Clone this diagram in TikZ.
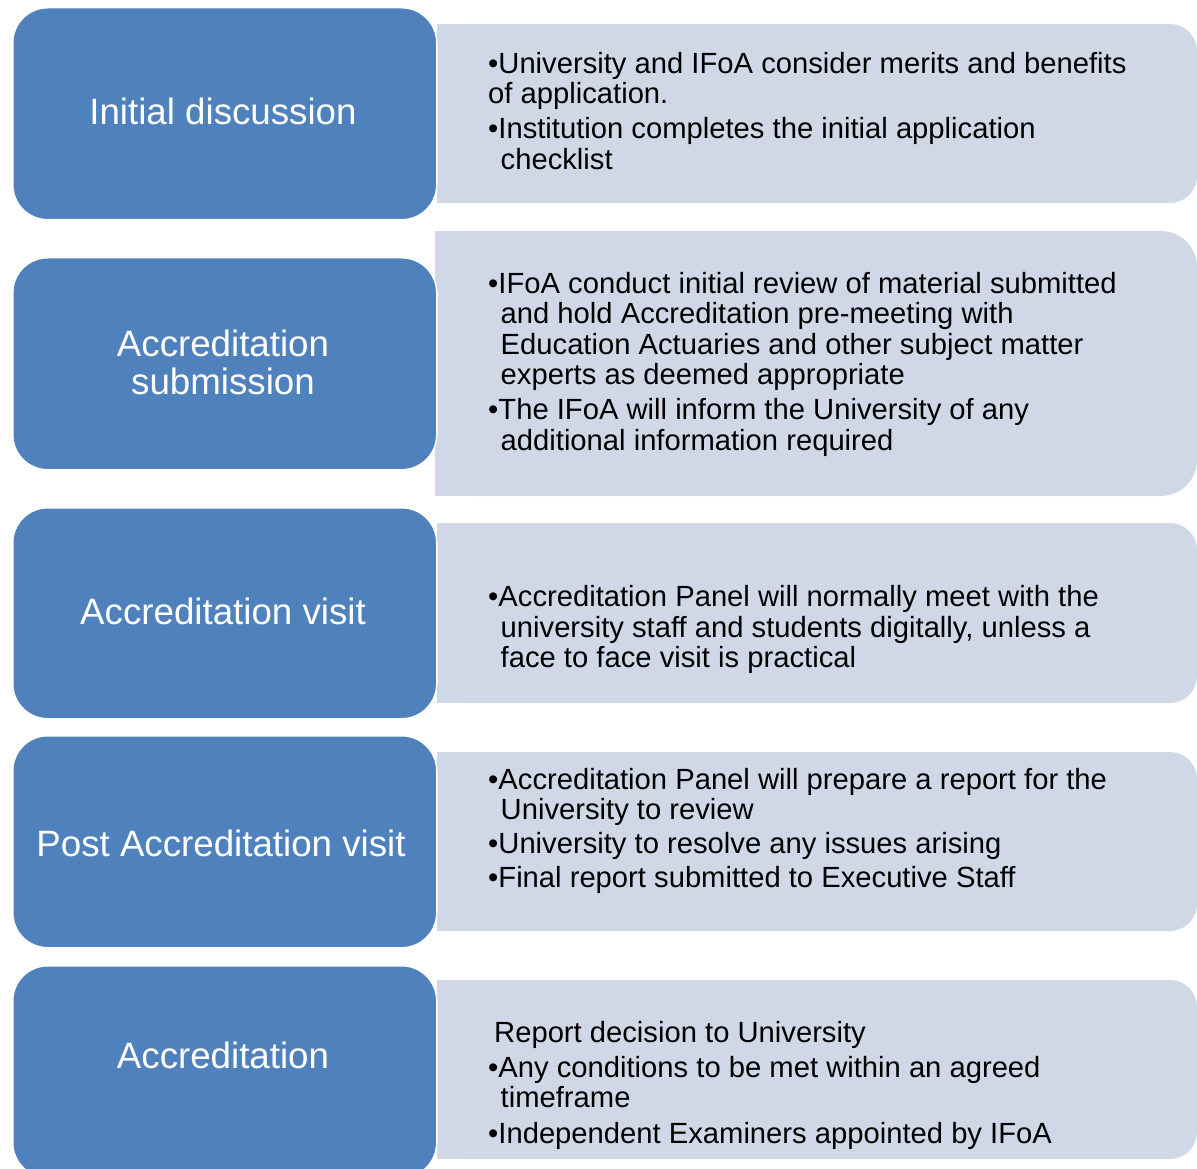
\documentclass[tikz,border=0pt]{standalone}
\usepackage{fontspec}
\setmainfont{Liberation Sans}
\definecolor{stepblue}{HTML}{4F81BD}
\definecolor{descgray}{HTML}{D0D8E8}
\tikzset{
  bluebox/.style={fill=stepblue, draw=white, line width=1.5pt, rounded corners=35pt, inner sep=0pt},
  steptext/.style={anchor=base, text=white, inner sep=0pt, font=\fontsize{36.7}{38}\selectfont},
  desc/.style={anchor=base west, text=black, inner sep=0pt, font=\fontsize{29.2}{30}\selectfont},
}
\begin{document}
\begin{tikzpicture}[x=1pt,y=-1pt]
\useasboundingbox (0,0) rectangle (1197,1169);
\clip (0,0) rectangle (1197,1169);
% gray description panels (rounded on the right only)
\foreach \t/\b/\l/\r in {24/203/437/27, 231/496/435/36, 523/703/437/27, 752/931/437/27, 980/1159/437/27}{
  \fill[descgray, rounded corners=\r pt] (\l,\t) rectangle (1197,\b);
  \fill[descgray] (\l,\t) rectangle (\l+60,\b);
}
% blue step boxes
\path (12,7) node[bluebox, anchor=north west, minimum width=424pt, minimum height=212pt] (b1) {};
\path (12,257) node[bluebox, anchor=north west, minimum width=424pt, minimum height=212pt] (b2) {};
\path (12,507) node[bluebox, anchor=north west, minimum width=424pt, minimum height=211pt] (b3) {};
\path (12,735) node[bluebox, anchor=north west, minimum width=424pt, minimum height=212pt] (b4) {};
\path (12,965) node[bluebox, anchor=north west, minimum width=424pt, minimum height=212pt] (b5) {};
% step labels
\node[steptext] (t1) at (223,125) {Initial discussion};
\node[steptext] (t2a) at (223,356) {Accreditation};
\node[steptext] (t2b) at (223,394) {submission};
\node[steptext] (t3) at (223,624) {Accreditation visit};
\node[steptext] (t4) at (221,856) {Post Accreditation visit};
\node[steptext] (t5) at (223,1068) {Accreditation};
% descriptions
\node[desc] (d11) at (488,74) {•University and IFoA consider merits and benefits};
\node[desc] (d12) at (488,104) {of application.};
\node[desc] (d13) at (488,139) {•Institution completes the initial application};
\node[desc] (d14) at (500.5,170) {checklist};

\node[desc] (d21) at (488,293) {•IFoA conduct initial review of material submitted};
\node[desc] (d22) at (500.5,323) {and hold Accreditation pre-meeting with};
\node[desc] (d23) at (500.5,354) {Education Actuaries and other subject matter};
\node[desc] (d24) at (500.5,384) {experts as deemed appropriate};
\node[desc] (d25) at (488,419) {•The IFoA will inform the University of any};
\node[desc] (d26) at (500.5,450) {additional information required};

\node[desc] (d31) at (488,606) {•Accreditation Panel will normally meet with the};
\node[desc] (d32) at (500.5,637) {university staff and students digitally, unless a};
\node[desc] (d33) at (500.5,667) {face to face visit is practical};

\node[desc] (d41) at (488,789) {•Accreditation Panel will prepare a report for the};
\node[desc] (d42) at (500.5,819) {University to review};
\node[desc] (d43) at (488,853) {•University to resolve any issues arising};
\node[desc] (d44) at (488,887) {•Final report submitted to Executive Staff};

\node[desc] (d51) at (494,1042) {Report decision to University};
\node[desc] (d52) at (488,1077) {•Any conditions to be met within an agreed};
\node[desc] (d53) at (500.5,1107) {timeframe};
\node[desc] (d54) at (488,1143) {•Independent Examiners appointed by IFoA};
\end{tikzpicture}
\end{document}
